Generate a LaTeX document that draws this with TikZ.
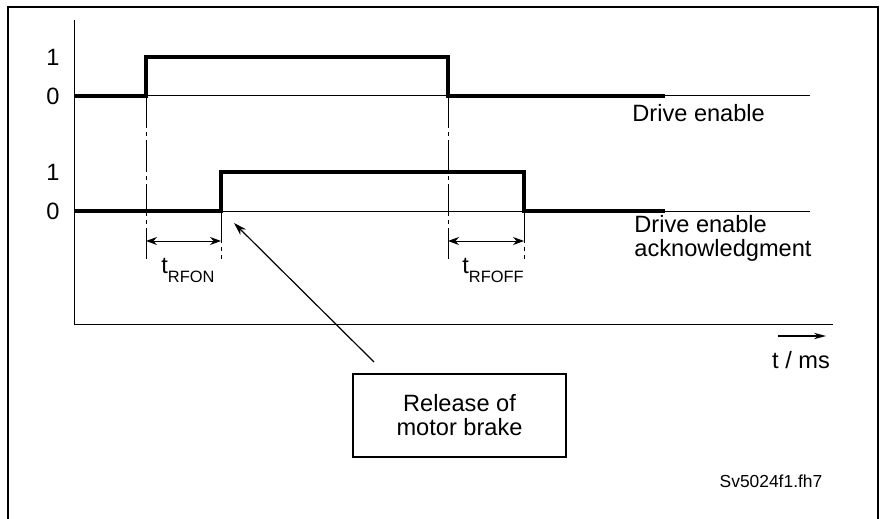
\documentclass[tikz,border=0pt]{standalone}
\usepackage{fontspec}
\setmainfont{Liberation Sans}
\usetikzlibrary{arrows.meta,positioning}

\newcommand{\lowsub}[1]{\raisebox{-4.5pt}{\fontsize{8.2}{9}\selectfont #1}}

\begin{document}
\begin{tikzpicture}[x=0.5pt, y=-0.5pt,
    every node/.style={font=\fontsize{11.8}{12}\selectfont, inner sep=0pt},
    signal/.style={line width=1.6pt, line join=miter},
    level/.style={line width=0.5pt},
    marker/.style={line width=0.5pt, dash pattern=on 16pt off 2pt on 2pt off 2pt},
    span/.style={{Stealth[length=5.5pt,width=4pt]}-{Stealth[length=5.5pt,width=4pt]}, line width=0.5pt}]
  \useasboundingbox (0,0) rectangle (883,519);

  % Frame
  \draw[line width=1.2pt] (8,519) -- (8,7) -- (878,7) -- (878,519);

  % Axes
  \coordinate (origin) at (74,324);
  \draw[level] (74,20) -- (origin) -- (833,324);

  % Levels and signals
  \draw[level] (74,96) -- (810,96);
  \draw[level] (74,211) -- (810,211);
  \draw[signal] (74,96) -- (146,96) -- (146,57) -- (448,57) -- (448,96) -- (665,96);
  \draw[signal] (74,211) -- (221,211) -- (221,172) -- (524,172) -- (524,211) -- (665,211);

  \node (hiA) at (53,57) {1};
  \node (loA) at (53,96) {0};
  \node (hiB) at (53,172) {1};
  \node (loB) at (53,211) {0};

  \node[anchor=west] (enable) at (632,113) {Drive enable};
  \node[anchor=west, align=left] (ack) at (634,238) {Drive enable\\acknowledgment};

  % Edge markers
  \draw[marker] (146,96) -- (146,259);
  \draw[marker] (221,211) -- (221,259);
  \draw[marker] (448,96) -- (448,259);
  \draw[marker] (524,211) -- (524,259);

  % Delay times
  \coordinate (onA) at (146,241);
  \coordinate (onB) at (221,241);
  \coordinate (offA) at (448,241);
  \coordinate (offB) at (524,241);
  \draw[span] (onA) -- (onB);
  \draw[span] (offA) -- (offB);
  \node[anchor=base west] (tron) at (161,273) {t\lowsub{RFON}};
  \node[anchor=base west] (troff) at (462,273) {t\lowsub{RFOFF}};

  % Time axis label
  \coordinate (tstart) at (778,336);
  \coordinate (tend) at (826,336);
  \draw[-{Stealth[length=6pt,width=3.2pt]}, line width=0.6pt] (tstart) -- (tend);
  \node (time) at (801,360) {t / ms};

  % Brake note
  \node[draw, line width=1pt, minimum width=106.5pt, minimum height=41.5pt, align=center]
    (brake) at (459.5,415.5) {Release of\\motor brake};
  \coordinate (tail) at (374,362);
  \coordinate (tip) at (234,223);
  \draw[-{Stealth[length=6.5pt,width=4pt]}, line width=0.6pt] (tail) -- (tip);

  \node[font=\fontsize{8.7}{10}\selectfont] (fileid) at (771,481) {Sv5024f1.fh7};
\end{tikzpicture}
\end{document}
